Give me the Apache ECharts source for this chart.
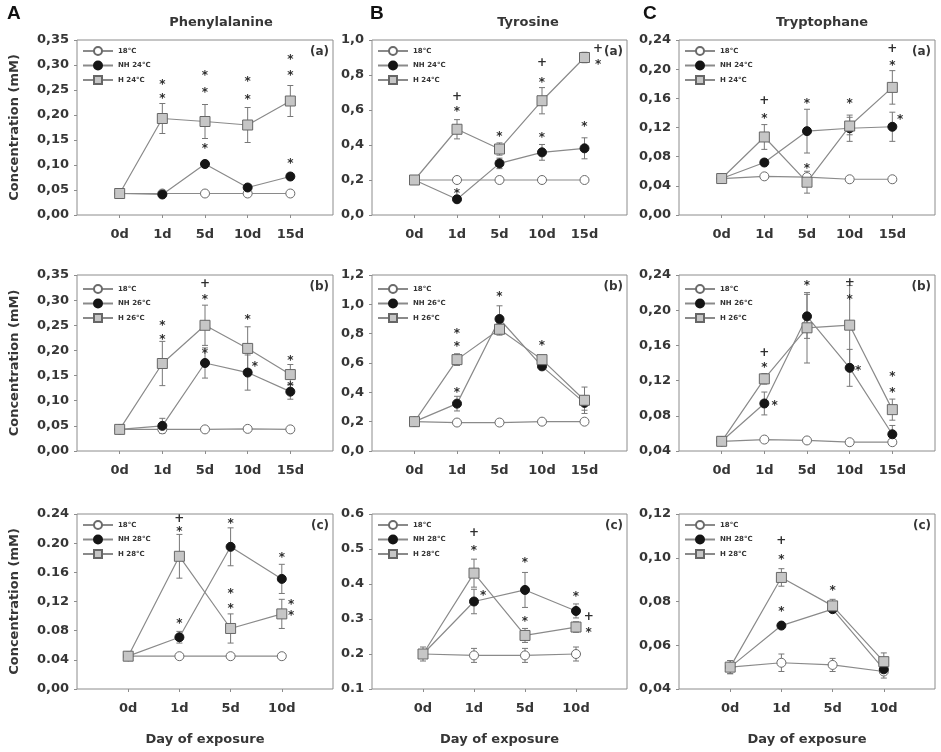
<!DOCTYPE html>
<html><head><meta charset="utf-8">
<script src="https://cdn.jsdelivr.net/npm/echarts@6/dist/echarts.min.js"></script>
<style>html,body{margin:0;padding:0;background:#fff}#c{width:941px;height:752px}</style>
</head><body><div id="c"></div>
<script>
// ---------- categories & labels ----------
const days15 = ['0d', '1d', '5d', '10d', '15d'];
const days10 = ['0d', '1d', '5d', '10d'];
const aminoAcids = ['Phenylalanine', 'Tyrosine', 'Tryptophane'];
const panelLetters = ['A', 'B', 'C'];
const rowTags = ['(a)', '(b)', '(c)'];
const temps = ['24°C', '26°C', '28°C'];
const ctrlName = '18°C';

// ---------- y tick labels ----------
const yTicksPhe24 = ['0,00', '0,05', '0,10', '0,15', '0,20', '0,25', '0,30', '0,35'];
const yTicksTyr24 = ['0,0', '0,2', '0,4', '0,6', '0,8', '1,0'];
const yTicksTrp24 = ['0,00', '0,04', '0,08', '0,12', '0,16', '0,20', '0,24'];
const yTicksPhe26 = ['0,00', '0,05', '0,10', '0,15', '0,20', '0,25', '0,30', '0,35'];
const yTicksTyr26 = ['0,0', '0,2', '0,4', '0,6', '0,8', '1,0', '1,2'];
const yTicksTrp26 = ['0,04', '0,08', '0,12', '0,16', '0,20', '0,24'];
const yTicksPhe28 = ['0,00', '0.04', '0.08', '0,12', '0.16', '0.20', '0.24'];
const yTicksTyr28 = ['0.1', '0.2', '0.3', '0.4', '0.5', '0.6'];
const yTicksTrp28 = ['0,04', '0,06', '0,08', '0,10', '0,12'];

// ---------- row (a): 24°C ----------
const phe24Ctrl = [0.043, 0.043, 0.043, 0.043, 0.043];
const phe24CtrlErr = [0.003, 0.003, 0.003, 0.003, 0.003];
const phe24NH = [0.043, 0.041, 0.102, 0.055, 0.077];
const phe24NHErr = [0.003, 0.004, 0.007, 0.005, 0.006];
const phe24H = [0.043, 0.193, 0.187, 0.180, 0.228];
const phe24HErr = [0.003, 0.030, 0.034, 0.035, 0.031];
const phe24Marks = [[1, 0.267, '*'], [1, 0.238, '*'], [2, 0.285, '*'], [2, 0.250, '*'], [2, 0.139, '*'],
  [3, 0.272, '*'], [3, 0.237, '*'], [4, 0.317, '*'], [4, 0.285, '*'], [4, 0.108, '*']];

const tyr24Ctrl = [0.20, 0.20, 0.20, 0.20, 0.20];
const tyr24CtrlErr = [0.01, 0.01, 0.02, 0.01, 0.01];
const tyr24NH = [0.20, 0.09, 0.295, 0.358, 0.381];
const tyr24NHErr = [0.01, 0.015, 0.03, 0.045, 0.06];
const tyr24H = [0.20, 0.49, 0.377, 0.653, 0.90];
const tyr24HErr = [0.01, 0.055, 0.035, 0.075, 0.03];
const tyr24Marks = [[1, 0.676, '+'], [1, 0.604, '*'], [1, 0.14, '*'], [2, 0.461, '*'], [3, 0.867, '+'],
  [3, 0.775, '*'], [3, 0.457, '*'], [4, 0.52, '*'], [4.32, 0.947, '+'], [4.32, 0.876, '*']];

const trp24Ctrl = [0.050, 0.053, 0.052, 0.049, 0.049];
const trp24CtrlErr = [0.003, 0.003, 0.003, 0.002, 0.002];
const trp24NH = [0.050, 0.072, 0.115, 0.119, 0.121];
const trp24NHErr = [0.003, 0.004, 0.030, 0.018, 0.020];
const trp24H = [0.050, 0.107, 0.045, 0.122, 0.175];
const trp24HErr = [0.003, 0.017, 0.015, 0.012, 0.023];
const trp24Marks = [[1, 0.157, '+'], [1, 0.136, '*'], [2, 0.157, '*'], [2, 0.067, '*'], [3, 0.157, '*'],
  [4, 0.228, '+'], [4, 0.208, '*'], [4.18, 0.134, '*']];

// ---------- row (b): 26°C ----------
const phe26Ctrl = [0.043, 0.043, 0.043, 0.044, 0.043];
const phe26CtrlErr = [0.003, 0.003, 0.003, 0.003, 0.003];
const phe26NH = [0.043, 0.050, 0.175, 0.156, 0.118];
const phe26NHErr = [0.003, 0.015, 0.030, 0.035, 0.015];
const phe26H = [0.043, 0.174, 0.250, 0.204, 0.152];
const phe26HErr = [0.003, 0.044, 0.040, 0.043, 0.020];
const phe26Marks = [[1, 0.254, '*'], [1, 0.227, '*'], [2, 0.332, '+'], [2, 0.307, '*'], [2, 0.200, '*'],
  [3, 0.266, '*'], [3.17, 0.173, '*'], [4, 0.186, '*'], [4, 0.133, '*']];

const tyr26Ctrl = [0.20, 0.194, 0.194, 0.20, 0.20];
const tyr26CtrlErr = [0.01, 0.01, 0.01, 0.01, 0.01];
const tyr26NH = [0.20, 0.323, 0.90, 0.577, 0.328];
const tyr26NHErr = [0.01, 0.05, 0.09, 0.02, 0.05];
const tyr26H = [0.20, 0.623, 0.83, 0.623, 0.346];
const tyr26HErr = [0.01, 0.04, 0.04, 0.03, 0.09];
const tyr26Marks = [[1, 0.82, '*'], [1, 0.727, '*'], [1, 0.42, '*'], [2, 1.073, '*'], [3, 0.738, '*']];

const trp26Ctrl = [0.051, 0.053, 0.052, 0.050, 0.050];
const trp26CtrlErr = [0.002, 0.002, 0.002, 0.002, 0.002];
const trp26NH = [0.051, 0.094, 0.193, 0.1345, 0.059];
const trp26NHErr = [0.002, 0.013, 0.025, 0.021, 0.010];
const trp26H = [0.051, 0.122, 0.180, 0.183, 0.087];
const trp26HErr = [0.002, 0.006, 0.040, 0.045, 0.012];
const trp26Marks = [[1, 0.152, '+'], [1, 0.138, '*'], [1.24, 0.095, '*'], [2, 0.231, '*'], [3, 0.231, '+'],
  [3, 0.215, '*'], [3.2, 0.134, '*'], [4, 0.128, '*'], [4, 0.110, '*']];

// ---------- row (c): 28°C ----------
const phe28Ctrl = [0.045, 0.045, 0.045, 0.045];
const phe28CtrlErr = [0.002, 0.002, 0.002, 0.002];
const phe28NH = [0.045, 0.071, 0.195, 0.151];
const phe28NHErr = [0.002, 0.008, 0.026, 0.020];
const phe28H = [0.045, 0.182, 0.083, 0.103];
const phe28HErr = [0.002, 0.030, 0.020, 0.020];
const phe28Marks = [[1, 0.234, '+'], [1, 0.219, '*'], [1, 0.094, '*'], [2, 0.231, '*'], [2, 0.135, '*'],
  [2, 0.114, '*'], [3, 0.184, '*'], [3.18, 0.120, '*'], [3.18, 0.104, '*']];

const tyr28Ctrl = [0.20, 0.196, 0.196, 0.20];
const tyr28CtrlErr = [0.02, 0.02, 0.02, 0.02];
const tyr28NH = [0.20, 0.35, 0.383, 0.323];
const tyr28NHErr = [0.01, 0.035, 0.05, 0.02];
const tyr28H = [0.20, 0.431, 0.253, 0.277];
const tyr28HErr = [0.01, 0.04, 0.02, 0.015];
const tyr28Marks = [[1, 0.546, '+'], [1, 0.504, '*'], [1.18, 0.375, '*'], [2, 0.469, '*'], [2, 0.30, '*'],
  [3, 0.373, '*'], [3.25, 0.306, '+'], [3.25, 0.27, '*']];

const trp28Ctrl = [0.050, 0.052, 0.051, 0.048];
const trp28CtrlErr = [0.003, 0.004, 0.003, 0.003];
const trp28NH = [0.050, 0.069, 0.0765, 0.049];
const trp28NHErr = [0.001, 0.001, 0.001, 0.001];
const trp28H = [0.050, 0.091, 0.078, 0.0525];
const trp28HErr = [0.003, 0.004, 0.003, 0.004];
const trp28Marks = [[1, 0.1077, '+'], [1, 0.1005, '*'], [1, 0.0765, '*'], [2, 0.0864, '*']];

// ---------- panel table (built from the arrays above) ----------
const panels = [
  {row: 0, col: 0, days: days15, ctrl: phe24Ctrl, ctrlErr: phe24CtrlErr, nh: phe24NH, nhErr: phe24NHErr, h: phe24H, hErr: phe24HErr, marks: phe24Marks, ticks: yTicksPhe24, min: 0, max: 0.35, step: 0.05},
  {row: 0, col: 1, days: days15, ctrl: tyr24Ctrl, ctrlErr: tyr24CtrlErr, nh: tyr24NH, nhErr: tyr24NHErr, h: tyr24H, hErr: tyr24HErr, marks: tyr24Marks, ticks: yTicksTyr24, min: 0, max: 1.0, step: 0.2},
  {row: 0, col: 2, days: days15, ctrl: trp24Ctrl, ctrlErr: trp24CtrlErr, nh: trp24NH, nhErr: trp24NHErr, h: trp24H, hErr: trp24HErr, marks: trp24Marks, ticks: yTicksTrp24, min: 0, max: 0.24, step: 0.04},
  {row: 1, col: 0, days: days15, ctrl: phe26Ctrl, ctrlErr: phe26CtrlErr, nh: phe26NH, nhErr: phe26NHErr, h: phe26H, hErr: phe26HErr, marks: phe26Marks, ticks: yTicksPhe26, min: 0, max: 0.35, step: 0.05},
  {row: 1, col: 1, days: days15, ctrl: tyr26Ctrl, ctrlErr: tyr26CtrlErr, nh: tyr26NH, nhErr: tyr26NHErr, h: tyr26H, hErr: tyr26HErr, marks: tyr26Marks, ticks: yTicksTyr26, min: 0, max: 1.2, step: 0.2},
  {row: 1, col: 2, days: days15, ctrl: trp26Ctrl, ctrlErr: trp26CtrlErr, nh: trp26NH, nhErr: trp26NHErr, h: trp26H, hErr: trp26HErr, marks: trp26Marks, ticks: yTicksTrp26, min: 0.04, max: 0.24, step: 0.04},
  {row: 2, col: 0, days: days10, ctrl: phe28Ctrl, ctrlErr: phe28CtrlErr, nh: phe28NH, nhErr: phe28NHErr, h: phe28H, hErr: phe28HErr, marks: phe28Marks, ticks: yTicksPhe28, min: 0, max: 0.24, step: 0.04},
  {row: 2, col: 1, days: days10, ctrl: tyr28Ctrl, ctrlErr: tyr28CtrlErr, nh: tyr28NH, nhErr: tyr28NHErr, h: tyr28H, hErr: tyr28HErr, marks: tyr28Marks, ticks: yTicksTyr28, min: 0.1, max: 0.6, step: 0.1},
  {row: 2, col: 2, days: days10, ctrl: trp28Ctrl, ctrlErr: trp28CtrlErr, nh: trp28NH, nhErr: trp28NHErr, h: trp28H, hErr: trp28HErr, marks: trp28Marks, ticks: yTicksTrp28, min: 0.04, max: 0.12, step: 0.02}
];

// ---------- layout & style ----------
const FONT = 'DejaVu Sans';
const TXT = '#363636';
const FRAME = '#8c8c8c';
const LINE = '#8a8a8a';
const colLeft = [77, 372, 679], colWidth = [256, 255, 256];
const rowTop = [40, 275, 514], rowHeight = [175, 176, 175];
const legendOffset = [6, 9, 6];
const titleX = [221, 528, 822];
const letterX = [7, 370, 643];

const chart = echarts.init(document.getElementById('c'), null, {renderer: 'canvas', width: 941, height: 752});

function renderErr(params, api) {
  const x = api.value(0), v = api.value(1), e = api.value(2);
  if (!e) return null;
  const top = api.coord([x, v + e]);
  const bot = api.coord([x, v - e]);
  const w = 3;
  const st = {stroke: '#777', lineWidth: 1};
  return {type: 'group', children: [
    {type: 'line', shape: {x1: top[0], y1: top[1], x2: bot[0], y2: bot[1]}, style: st},
    {type: 'line', shape: {x1: top[0] - w, y1: top[1], x2: top[0] + w, y2: top[1]}, style: st},
    {type: 'line', shape: {x1: bot[0] - w, y1: bot[1], x2: bot[0] + w, y2: bot[1]}, style: st}
  ]};
}

const grids = [], xAxes = [], yAxes = [], series = [], legends = [], graphics = [];

panels.forEach((p, i) => {
  const L = colLeft[p.col], T = rowTop[p.row], W = colWidth[p.col], H = rowHeight[p.row];
  const n = p.days.length;
  const idx = p.days.map((d, k) => k);
  const t = temps[p.row];
  grids.push({left: L, top: T, width: W, height: H, show: true, borderColor: FRAME, borderWidth: 1,
    backgroundColor: 'transparent', containLabel: false, outerBoundsMode: 'none'});
  xAxes.push({type: 'value', gridIndex: i, min: -1, max: n, interval: 1,
    axisLine: {show: false, onZero: false}, splitLine: {show: false},
    axisTick: {show: true, length: 3, lineStyle: {color: FRAME}, customValues: idx},
    axisLabel: {customValues: idx, formatter: v => p.days[Math.round(v)] || '', margin: 13,
      fontSize: 13, fontWeight: 'bold', color: TXT, fontFamily: FONT},
    name: p.row === 2 ? 'Day of exposure' : '', nameLocation: 'middle', nameGap: 44,
    nameTextStyle: {fontSize: 13, fontWeight: 'bold', color: TXT, fontFamily: FONT}});
  yAxes.push({type: 'value', gridIndex: i, min: p.min, max: p.max, interval: p.step,
    axisLine: {show: false, onZero: false}, splitLine: {show: false},
    axisTick: {show: true, length: 3, lineStyle: {color: FRAME}},
    axisLabel: {formatter: v => { const s = p.ticks[Math.round((v - p.min) / p.step)]; return s === undefined ? '' : s; },
      margin: 8, fontSize: 13, fontWeight: 'bold', color: TXT, fontFamily: FONT},
    name: p.col === 0 ? 'Concentration (mM)' : '', nameLocation: 'middle', nameGap: 56, nameRotate: 90,
    nameTextStyle: {fontSize: 13, fontWeight: 'bold', color: TXT, fontFamily: FONT}});

  const errData = [];
  [[p.ctrl, p.ctrlErr], [p.nh, p.nhErr], [p.h, p.hErr]].forEach(([vals, errs]) => {
    vals.forEach((v, k) => errData.push([k, v, errs[k]]));
  });
  series.push({type: 'custom', name: 'err' + i, xAxisIndex: i, yAxisIndex: i, z: 2, silent: true,
    encode: {x: 0, y: 1}, data: errData, renderItem: renderErr});

  const common = {type: 'line', xAxisIndex: i, yAxisIndex: i, silent: true, animation: false,
    lineStyle: {color: LINE, width: 1.2}, emphasis: {disabled: true}};
  series.push(Object.assign({}, common, {name: ctrlName, z: 3, symbol: 'circle', symbolSize: 9,
    itemStyle: {color: '#ffffff', borderColor: '#6a6a6a', borderWidth: 1},
    data: p.ctrl.map((v, k) => [k, v])}));
  series.push(Object.assign({}, common, {name: 'NH ' + t, z: 4, symbol: 'circle', symbolSize: 9,
    itemStyle: {color: '#151515', borderColor: '#151515', borderWidth: 1},
    data: p.nh.map((v, k) => [k, v])}));
  series.push(Object.assign({}, common, {name: 'H ' + t, z: 5, symbol: 'rect', symbolSize: 10,
    itemStyle: {color: '#c6c6c6', borderColor: '#666666', borderWidth: 1},
    data: p.h.map((v, k) => [k, v])}));

  series.push({type: 'custom', name: 'sig' + i, xAxisIndex: i, yAxisIndex: i, z: 6, silent: true,
    encode: {x: 0, y: 1}, data: p.marks.map(m => [m[0], m[1]]),
    renderItem: (params, api) => {
      const c = api.coord([api.value(0), api.value(1)]);
      const s = p.marks[params.dataIndex][2];
      return {type: 'text', x: c[0], y: c[1] + (s === '*' ? 3 : 0),
        style: {text: s, font: 'bold 12px "DejaVu Sans"', fill: '#2e2e2e',
          align: 'center', verticalAlign: 'middle', textAlign: 'center', textVerticalAlign: 'middle'}};
    }});

  legends.push({orient: 'vertical', left: L + 5, top: T + legendOffset[p.row], itemWidth: 30, itemHeight: 10,
    itemGap: 4.5, padding: 0, selectedMode: false, data: [ctrlName, 'NH ' + t, 'H ' + t],
    textStyle: {fontSize: 7, fontWeight: 'bold', color: '#333', fontFamily: FONT}});

  graphics.push({type: 'text', x: L + W - 4, y: T + 12, silent: true,
    style: {text: rowTags[p.row], font: 'bold 12px "DejaVu Sans"', fill: TXT,
      align: 'right', verticalAlign: 'middle', textAlign: 'right', textVerticalAlign: 'middle'}});
});

aminoAcids.forEach((name, c) => {
  graphics.push({type: 'text', x: titleX[c], y: 23, silent: true,
    style: {text: name, font: 'bold 13px "DejaVu Sans"', fill: TXT,
      align: 'center', verticalAlign: 'middle', textAlign: 'center', textVerticalAlign: 'middle'}});
  graphics.push({type: 'text', x: letterX[c], y: 14, silent: true,
    style: {text: panelLetters[c], font: 'bold 19px "Liberation Sans"', fill: '#111',
      align: 'left', verticalAlign: 'middle', textAlign: 'left', textVerticalAlign: 'middle'}});
});

chart.setOption({
  animation: false,
  backgroundColor: '#ffffff',
  grid: grids,
  xAxis: xAxes,
  yAxis: yAxes,
  legend: legends,
  series: series,
  graphic: graphics
});
</script>
</body></html>
